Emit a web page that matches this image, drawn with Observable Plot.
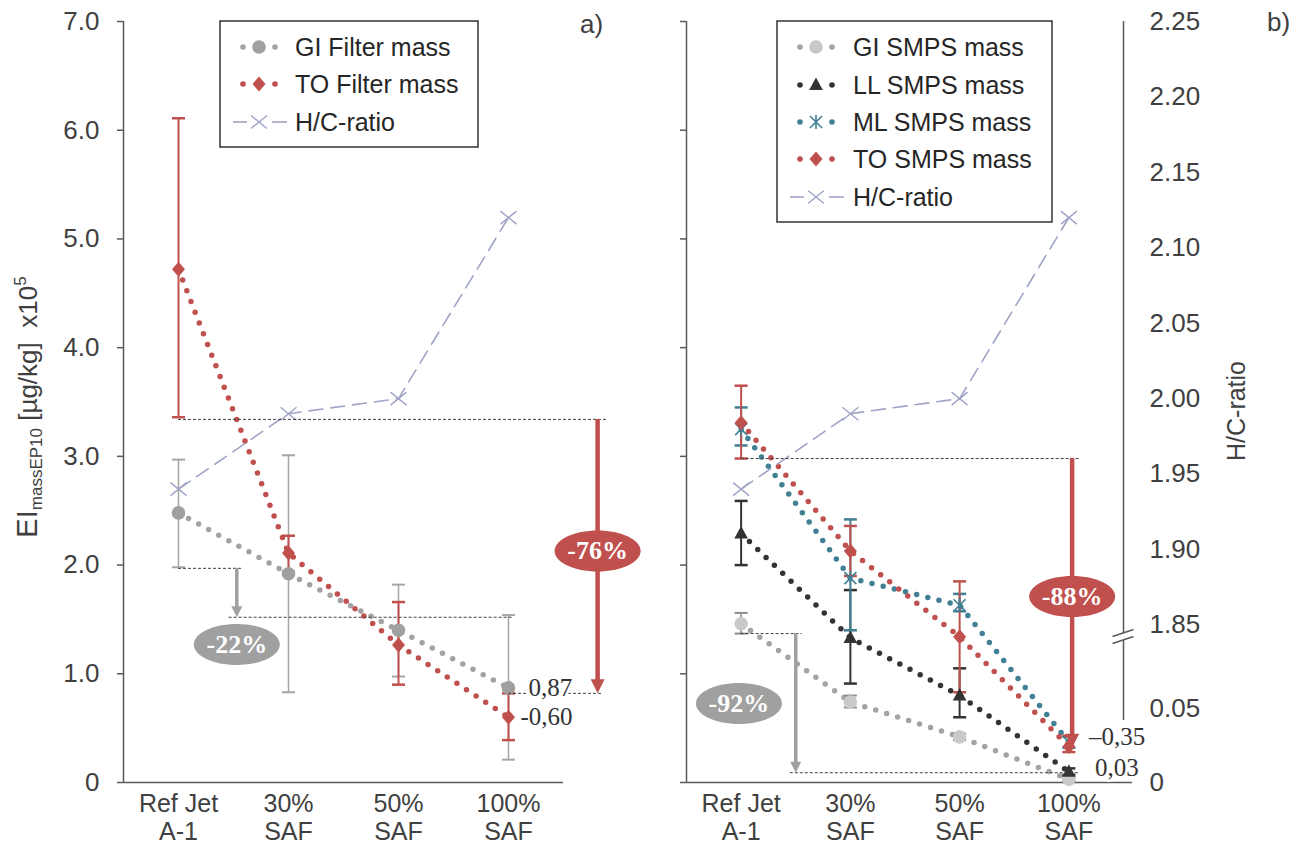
<!DOCTYPE html>
<html><head><meta charset="utf-8">
<script src="https://cdn.jsdelivr.net/npm/d3@7"></script>
<script src="https://cdn.jsdelivr.net/npm/@observablehq/plot@0.6"></script>
<style>
body{margin:0;background:#fff;}
#wrap{position:relative;width:1302px;height:846px;overflow:hidden;background:#fff;}
#wrap > svg{position:absolute;top:0;}
</style></head><body><div id="wrap"></div>
<script>
// ---------- data ----------
const categories = ["Ref Jet\nA-1", "30%\nSAF", "50%\nSAF", "100%\nSAF"];
const yTicks = [0, 1, 2, 3, 4, 5, 6, 7];
const hcTicks = [0, 0.05, 1.85, 1.90, 1.95, 2.00, 2.05, 2.10, 2.15, 2.20, 2.25];

// panel a) filter mass (x10^5 µg/kg)
const giFilter   = [2.48, 1.92, 1.40, 0.87];
const giFilterLo = [1.98, 0.83, 0.975, 0.21];
const giFilterHi = [2.97, 3.01, 1.82, 1.54];
const toFilter   = [4.72, 2.11, 1.265, 0.60];
const toFilterLo = [3.36, 1.94, 0.90, 0.39];
const toFilterHi = [6.11, 2.27, 1.66, 0.82];
// H/C ratio (both panels)
const hcRatio = [1.94, 1.99, 2.00, 2.12];

// panel b) SMPS mass
const giSmps   = [1.46, 0.74, 0.42, 0.03];
const giSmpsLo = [1.37, 0.69, 0.39, 0.015];
const giSmpsHi = [1.56, 0.80, 0.45, 0.045];
const llSmps   = [2.29, 1.33, 0.80, 0.10];
const llSmpsLo = [2.00, 0.91, 0.60, 0.07];
const llSmpsHi = [2.59, 1.77, 1.05, 0.13];
const mlSmps   = [3.25, 1.88, 1.63, 0.37];
const mlSmpsLo = [3.10, 1.40, 1.575, 0.32];
const mlSmpsHi = [3.45, 2.42, 1.735, 0.42];
const toSmps   = [3.31, 2.13, 1.34, 0.33];
const toSmpsLo = [2.98, 1.90, 0.83, 0.28];
const toSmpsHi = [3.65, 2.36, 1.85, 0.43];

// annotations (in data units)
const refLinesA = [{y: 3.34, x1: 0, x2: 3.89}, {y: 1.97, x1: 0, x2: 0.58}, {y: 1.52, x1: 0.46, x2: 3.04}, {y: 0.82, x1: 3.0, x2: 3.85}];
const arrowsA = [{x: 3.81, y1: 3.34, y2: 0.82, kind: "red"}, {x: 0.53, y1: 1.97, y2: 1.52, kind: "gray"}];
const pillsA = [{x: 3.81, y: 2.13, label: "-76%", kind: "red"}, {x: 0.53, y: 1.27, label: "-22%", kind: "gray"}];
const valueLabelsA = [{x: 3, y: 0.865, label: "0,87", dx: 20}, {x: 3, y: 0.60, label: "-0,60", dx: 12}];

const refLinesB = [{y: 2.98, x1: 0, x2: 3.1}, {y: 1.37, x1: 0, x2: 0.56}, {y: 0.09, x1: 0.45, x2: 3.1}];
const arrowsB = [{x: 3.03, y1: 2.98, y2: 0.32, kind: "red"}, {x: 0.50, y1: 1.37, y2: 0.09, kind: "gray"}];
const pillsB = [{x: 3.03, y: 1.71, label: "-88%", kind: "red"}, {x: -0.02, y: 0.727, label: "-92%", kind: "gray"}];
const valueLabelsB = [{x: 3, y: 0.414, label: "\u20130,35", dx: 20}, {x: 3, y: 0.13, label: "0,03", dx: 26}];
const axisBreakHC = [1.343];

// ---------- styling ----------
const fontSans = "'Liberation Sans', Arial, sans-serif";
const fontSerif = "'Liberation Serif', 'Times New Roman', serif";
const axisColor = "#595959";
const textColor = "#404040";
const RED = "#c0504d", GRAY = "#a3a3a3", HC = "#9fa4c6", LGRAY = "#c9c9c9", DARK = "#333333", TEAL = "#407f94";
const kindColor = {red: RED, gray: "#a0a0a0"};

// secondary (H/C) axis mapped into the primary scale, with a break between 0.05 and 1.85
function hcToV(h) { return h < 1 ? h * 13.6 : 1.45 + (h - 1.85) * 13.875; }

// symbols
const circleSym = r => ({draw(c) { c.moveTo(r, 0); c.arc(0, 0, r, 0, 2 * Math.PI); c.closePath(); }});
const sym = {
  cap: {draw(c) { c.moveTo(-6.5, 0); c.lineTo(6.5, 0); }},
  circle: circleSym(6.8),
  diamond: {draw(c) { c.moveTo(0, -7.5); c.lineTo(6.5, 0); c.lineTo(0, 7.5); c.lineTo(-6.5, 0); c.closePath(); }},
  triangle: {draw(c) { c.moveTo(0, -7.5); c.lineTo(6.8, 5); c.lineTo(-6.8, 5); c.closePath(); }},
  star: {draw(c) { c.moveTo(-6, -6); c.lineTo(6, 6); c.moveTo(6, -6); c.lineTo(-6, 6); c.moveTo(0, -7); c.lineTo(0, 7); }},
  cross: {draw(c) { c.moveTo(-8, -6.5); c.lineTo(8, 6.5); c.moveTo(8, -6.5); c.lineTo(-8, 6.5); }},
  headred: {draw(c) { c.moveTo(-7, -14); c.lineTo(7, -14); c.lineTo(0, 0); c.closePath(); }},
  headgray: {draw(c) { c.moveTo(-5.5, -11); c.lineTo(5.5, -11); c.lineTo(0, 0); c.closePath(); }},
  ellipse: {draw(c) { const rx = 43, ry = 20.5, k = 0.5523;
    c.moveTo(rx, 0);
    c.bezierCurveTo(rx, ry * k, rx * k, ry, 0, ry);
    c.bezierCurveTo(-rx * k, ry, -rx, ry * k, -rx, 0);
    c.bezierCurveTo(-rx, -ry * k, -rx * k, -ry, 0, -ry);
    c.bezierCurveTo(rx * k, -ry, rx, -ry * k, rx, 0); c.closePath(); }},
  breakFill: {draw(c) { c.moveTo(-11, 0); c.lineTo(10, -7); c.lineTo(10, 0); c.lineTo(-11, 7); c.closePath(); }},
  breakLines: {draw(c) { c.moveTo(-11, 0); c.lineTo(10, -7); c.moveTo(-11, 7); c.lineTo(10, 0); }}
};

function lineAndErr(vals, lo, hi, st) {
  const d = vals.map((v, i) => ({i, v, lo: lo[i], hi: hi[i]}));
  return [
    Plot.line(d, {x: "i", y: "v", stroke: st.line, strokeWidth: 5.5, strokeDasharray: "0 11.5", strokeLinecap: "round"}),
    Plot.ruleX(d, {x: "i", y1: "lo", y2: "hi", stroke: st.err, strokeWidth: st.ew}),
    Plot.dot(d, {x: "i", y: "lo", symbol: sym.cap, r: 1, fill: "none", stroke: st.err, strokeWidth: st.cw}),
    Plot.dot(d, {x: "i", y: "hi", symbol: sym.cap, r: 1, fill: "none", stroke: st.err, strokeWidth: st.cw})
  ];
}
function points(vals, st) {
  const d = vals.map((v, i) => ({i, v}));
  return Plot.dot(d, {x: "i", y: "v", symbol: st.symbol, r: 1, fill: st.fill || "none", stroke: st.stroke || "none", strokeWidth: st.sw || 1});
}
function hcMarks() {
  const d = hcRatio.map((h, i) => ({i, v: hcToV(h)}));
  return [
    Plot.line(d, {x: "i", y: "v", stroke: HC, strokeWidth: 1.6, strokeDasharray: "14 8"}),
    Plot.dot(d, {x: "i", y: "v", symbol: sym.cross, r: 1, fill: "none", stroke: HC, strokeWidth: 1.4})
  ];
}
function annotations(refs, arrows, pills, labels) {
  return [
    Plot.ruleY(refs, {y: "y", x1: "x1", x2: "x2", stroke: "#404040", strokeWidth: 1, strokeDasharray: "3 2"}),
    Plot.ruleX(arrows, {x: "x", y1: "y1", y2: "y2", stroke: d => kindColor[d.kind], strokeWidth: d => d.kind === "red" ? 4.5 : 3.5, insetBottom: 8}),
    Plot.dot(arrows, {x: "x", y: "y2", symbol: d => d.kind === "red" ? sym.headred : sym.headgray, r: 1, fill: d => kindColor[d.kind], stroke: "none"}),
    Plot.dot(pills, {x: "x", y: "y", symbol: sym.ellipse, r: 1, fill: d => kindColor[d.kind], stroke: "none"}),
    Plot.text(pills, {x: "x", y: "y", text: "label", fill: "white", fontFamily: fontSerif, fontWeight: "bold", fontSize: 26}),
    ...labels.map(l => Plot.text([l], {x: "x", y: "y", text: "label", dx: l.dx, textAnchor: "start", fill: "#333",
      fontFamily: fontSerif, fontSize: 25, stroke: "white", strokeWidth: 5}))
  ];
}
const styleBase = {fontFamily: fontSans, fontSize: "26px", color: textColor, background: "transparent", overflow: "visible"};
const xAxis = Plot.axisX({ticks: [0, 1, 2, 3], tickSize: 0, tickPadding: 10, tickFormat: i => categories[i], fontSize: 25, lineHeight: 1.12});

// ---------- panel a ----------
const left = Plot.plot({
  width: 660, height: 846, marginLeft: 123, marginRight: 97, marginTop: 21, marginBottom: 64,
  style: styleBase,
  x: {type: "linear", domain: [-0.5, 3.5]},
  y: {domain: [0, 7]},
  marks: [
    Plot.axisY({ticks: yTicks, tickSize: 6, tickPadding: 18, stroke: axisColor, strokeWidth: 1.5, fontSize: 26,
      tickFormat: d => d === 0 ? "0" : d.toFixed(1)}),
    xAxis,
    Plot.ruleX([-0.5], {y1: 0, y2: 7, stroke: axisColor, strokeWidth: 1.5}),
    Plot.ruleY([0], {stroke: axisColor, strokeWidth: 1.5}),
    ...lineAndErr(giFilter, giFilterLo, giFilterHi, {line: GRAY, err: "#a6a6a6", ew: 1.5, cw: 2}),
    ...lineAndErr(toFilter, toFilterLo, toFilterHi, {line: RED, err: RED, ew: 2, cw: 2.5}),
    ...hcMarks(),
    points(giFilter, {symbol: sym.circle, fill: "#a0a0a0"}),
    points(toFilter, {symbol: sym.diamond, fill: RED}),
    ...annotations(refLinesA, arrowsA, pillsA, valueLabelsA)
  ]
});
left.style.left = "0px";

// ---------- panel b ----------
const right = Plot.plot({
  width: 642, height: 846, marginLeft: 26, marginRight: 179, marginTop: 21, marginBottom: 64,
  style: styleBase,
  x: {type: "linear", domain: [-0.5, 3.5]},
  y: {domain: [0, 7]},
  marks: [
    Plot.axisY({ticks: yTicks, tickSize: 6, stroke: axisColor, strokeWidth: 1.5, tickFormat: () => ""}),
    xAxis,
    Plot.ruleX([-0.5], {y1: 0, y2: 7, stroke: axisColor, strokeWidth: 1.5}),
    Plot.ruleY([0], {stroke: axisColor, strokeWidth: 1.5, insetRight: -9}),
    Plot.ruleX([3.5], {y1: 0.57, y2: 7, stroke: axisColor, strokeWidth: 1.5}),
    Plot.dot(axisBreakHC, {y: d => d, frameAnchor: "right", symbol: sym.breakFill, r: 1, fill: "white", stroke: "none"}),
    Plot.dot(axisBreakHC, {y: d => d, frameAnchor: "right", symbol: sym.breakLines, r: 1, fill: "none", stroke: axisColor, strokeWidth: 1.5}),
    Plot.text(hcTicks, {y: hcToV, frameAnchor: "right", dx: 26, textAnchor: "start", fontSize: 26, fill: textColor,
      text: d => d === 0 ? "0" : d.toFixed(2)}),
    ...lineAndErr(giSmps, giSmpsLo, giSmpsHi, {line: GRAY, err: "#8c8c8c", ew: 1.5, cw: 2}),
    ...lineAndErr(llSmps, llSmpsLo, llSmpsHi, {line: DARK, err: DARK, ew: 2, cw: 2.5}),
    ...lineAndErr(mlSmps, mlSmpsLo, mlSmpsHi, {line: TEAL, err: TEAL, ew: 2, cw: 2.5}),
    ...lineAndErr(toSmps, toSmpsLo, toSmpsHi, {line: RED, err: RED, ew: 2, cw: 2.5}),
    ...hcMarks(),
    points(giSmps, {symbol: sym.circle, fill: LGRAY}),
    points(llSmps, {symbol: sym.triangle, fill: DARK}),
    points(mlSmps, {symbol: sym.star, stroke: TEAL, sw: 1.6}),
    points(toSmps, {symbol: sym.diamond, fill: RED}),
    ...annotations(refLinesB, arrowsB, pillsB, valueLabelsB)
  ]
});
right.style.left = "660px";

const wrap = document.getElementById("wrap");
wrap.appendChild(left);
wrap.appendChild(right);

// ---------- titles, panel letters, legends ----------
function addText(svg, x, y, txt, size, rot) {
  const t = d3.select(svg).append("text")
    .attr("transform", `translate(${x},${y})` + (rot ? " rotate(-90)" : ""))
    .attr("font-family", fontSans).attr("font-size", size).attr("fill", textColor);
  if (rot) t.attr("text-anchor", "middle"); else t.attr("text-anchor", "start").attr("dy", "0.36em");
  if (txt) t.text(txt);
  return t;
}
const yt = addText(left, 37, 407, null, 26, true);
yt.append("tspan").attr("font-size", 29).text("EI");
yt.append("tspan").attr("font-size", 17).attr("dy", 5).text("massEP10");
yt.append("tspan").attr("dy", -5).text("\u00a0[µg/kg]\u00a0\u00a0x10");
yt.append("tspan").attr("font-size", 17).attr("dy", -11).text("5");
addText(right, 585, 411, "H/C-ratio", 25, true);
addText(left, 580, 24, "a)", 26, false);
addText(right, 607, 22, "b)", 26, false);

function legend(svg, box, rows) {
  const g = d3.select(svg).append("g").attr("text-anchor", "start");
  g.append("rect").attr("x", box.x).attr("y", box.y).attr("width", box.w).attr("height", box.h)
    .attr("fill", "white").attr("stroke", "#333").attr("stroke-width", 1.5);
  rows.forEach((r, k) => {
    const y = box.rows[k];
    if (r.dashed) {
      [[box.sym - 26, box.sym - 12], [box.sym + 13, box.sym + 28]].forEach(([a, b]) =>
        g.append("line").attr("x1", a).attr("x2", b).attr("y1", y).attr("y2", y).attr("stroke", r.line).attr("stroke-width", 1.6));
    } else {
      [box.sym - 16, box.sym + 16].forEach(x => g.append("circle").attr("cx", x).attr("cy", y).attr("r", 2.8).attr("fill", r.line));
    }
    g.append("path").attr("transform", `translate(${box.sym},${y})`).attr("d", d3.symbol().type(r.symbol)())
      .attr("fill", r.fill || "none").attr("stroke", r.stroke || "none").attr("stroke-width", r.sw || 1);
    g.append("text").attr("x", box.text).attr("y", y).attr("dy", "0.36em").attr("text-anchor", "start")
      .attr("font-family", fontSans).attr("font-size", 25).attr("fill", "#262626").text(r.label);
  });
}
legend(left, {x: 220, y: 21, w: 258, h: 126, sym: 259, text: 295, rows: [47, 84, 122]}, [
  {label: "GI Filter mass", line: GRAY, symbol: sym.circle, fill: "#a0a0a0"},
  {label: "TO Filter mass", line: RED, symbol: sym.diamond, fill: RED},
  {label: "H/C-ratio", line: HC, dashed: true, symbol: sym.cross, stroke: HC, sw: 1.4}
]);
legend(right, {x: 117, y: 21, w: 275, h: 201, sym: 156, text: 193, rows: [47, 85, 122, 159, 197]}, [
  {label: "GI SMPS mass", line: GRAY, symbol: sym.circle, fill: LGRAY},
  {label: "LL SMPS mass", line: DARK, symbol: sym.triangle, fill: DARK},
  {label: "ML SMPS mass", line: TEAL, symbol: sym.star, stroke: TEAL, sw: 1.6},
  {label: "TO SMPS mass", line: RED, symbol: sym.diamond, fill: RED},
  {label: "H/C-ratio", line: HC, dashed: true, symbol: sym.cross, stroke: HC, sw: 1.4}
]);
</script></body></html>
